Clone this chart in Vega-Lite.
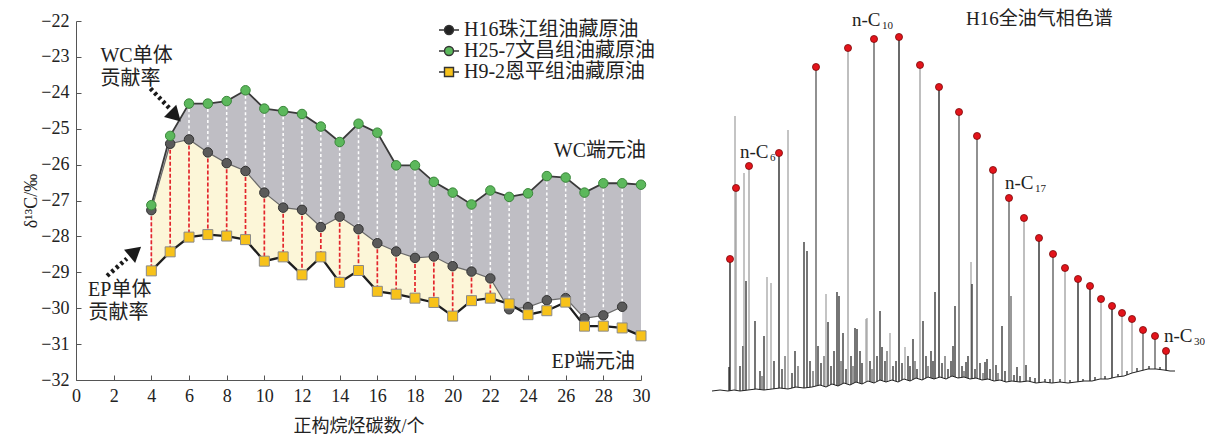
{
  "$schema": "https://vega.github.io/schema/vega-lite/v6.json",
  "padding": {"left": 22, "top": 10, "right": 0, "bottom": 0},
  "background": "white",
  "spacing": 60,
  "config": {
    "view": {"stroke": null},
    "font": "Liberation Serif, Noto Sans CJK SC",
    "axis": {
      "grid": false,
      "labelFont": "Liberation Serif",
      "labelFontSize": 18,
      "labelColor": "#222",
      "labelOverlap": false,
      "labelFlush": false,
      "titleFont": "Liberation Serif, Noto Sans CJK SC",
      "titleFontSize": 18,
      "titleFontWeight": "normal",
      "titleColor": "#222",
      "domainColor": "#555",
      "tickColor": "#555",
      "tickSize": -5,
      "labelPadding": 12
    },
    "legend": {
      "orient": "none", "legendX": 362, "legendY": -2, "title": null, "padding": 0,
      "labelLimit": 0,
      "labelFont": "Liberation Serif, Noto Sans CJK SC", "labelFontSize": 20, "labelColor": "#222",
      "symbolSize": 400, "rowPadding": -5, "labelOffset": 4, "symbolStrokeColor": "#333", "symbolStrokeWidth": 1.4
    }
  },
  "datasets": {
    "iso": [
      {"x": 4, "wc": -27.13, "h16": -27.27, "ep": -28.96},
      {"x": 5, "wc": -25.2, "h16": -25.42, "ep": -28.43},
      {"x": 6, "wc": -24.3, "h16": -25.3, "ep": -28.02},
      {"x": 7, "wc": -24.3, "h16": -25.66, "ep": -27.95},
      {"x": 8, "wc": -24.23, "h16": -25.96, "ep": -27.99},
      {"x": 9, "wc": -23.93, "h16": -26.18, "ep": -28.09},
      {"x": 10, "wc": -24.44, "h16": -26.78, "ep": -28.69},
      {"x": 11, "wc": -24.51, "h16": -27.2, "ep": -28.57},
      {"x": 12, "wc": -24.59, "h16": -27.26, "ep": -29.07},
      {"x": 13, "wc": -24.94, "h16": -27.74, "ep": -28.57},
      {"x": 14, "wc": -25.37, "h16": -27.45, "ep": -29.28},
      {"x": 15, "wc": -24.86, "h16": -27.8, "ep": -28.95},
      {"x": 16, "wc": -25.11, "h16": -28.19, "ep": -29.53},
      {"x": 17, "wc": -26.02, "h16": -28.42, "ep": -29.61},
      {"x": 18, "wc": -26.02, "h16": -28.6, "ep": -29.72},
      {"x": 19, "wc": -26.48, "h16": -28.56, "ep": -29.84},
      {"x": 20, "wc": -26.78, "h16": -28.83, "ep": -30.22},
      {"x": 21, "wc": -27.11, "h16": -28.98, "ep": -29.79},
      {"x": 22, "wc": -26.72, "h16": -29.17, "ep": -29.72},
      {"x": 23, "wc": -26.9, "h16": -30.03, "ep": -29.88},
      {"x": 24, "wc": -26.8, "h16": -29.97, "ep": -30.18},
      {"x": 25, "wc": -26.32, "h16": -29.78, "ep": -30.07},
      {"x": 26, "wc": -26.36, "h16": -29.72, "ep": -29.83},
      {"x": 27, "wc": -26.78, "h16": -30.28, "ep": -30.5},
      {"x": 28, "wc": -26.52, "h16": -30.2, "ep": -30.5},
      {"x": 29, "wc": -26.52, "h16": -29.96, "ep": -30.55},
      {"x": 30, "wc": -26.56, "h16": null, "ep": -30.77}
    ],
    "notes": [
      {"x": 1.3, "y": -22.97, "t": "WC单体"},
      {"x": 1.3, "y": -23.61, "t": "贡献率"},
      {"x": 0.64, "y": -29.48, "t": "EP单体"},
      {"x": 0.67, "y": -30.12, "t": "贡献率"},
      {"x": 25.37, "y": -25.63, "t": "WC端元油"},
      {"x": 25.25, "y": -31.51, "t": "EP端元油"}
    ],
    "arrows": [
      {"name": "wc", "x": 3.95, "y": -23.88, "x2": 5.0, "y2": -24.45},
      {"name": "ep", "x": 1.65, "y": -29.1, "x2": 2.7, "y2": -28.62}
    ],
    "heads": [
      {"name": "wc", "x": 5.28, "y": -24.65},
      {"name": "ep", "x": 3.15, "y": -28.42}
    ],
    "alk": [
      {"rt": 30, "h": 132, "tone": "d"}, {"rt": 36, "h": 203, "tone": "l"}, {"rt": 49, "h": 225, "tone": "l"},
      {"rt": 79, "h": 238, "tone": "d"}, {"rt": 116, "h": 324, "tone": "m"}, {"rt": 148, "h": 343, "tone": "l"},
      {"rt": 174, "h": 352, "tone": "m"}, {"rt": 199, "h": 354, "tone": "d"}, {"rt": 220, "h": 326, "tone": "l"},
      {"rt": 239, "h": 304, "tone": "d"}, {"rt": 259, "h": 279, "tone": "m"}, {"rt": 277, "h": 255, "tone": "m"},
      {"rt": 293, "h": 221, "tone": "m"}, {"rt": 309, "h": 193, "tone": "m"}, {"rt": 324, "h": 173, "tone": "l"},
      {"rt": 339, "h": 153, "tone": "d"}, {"rt": 353, "h": 137, "tone": "m"}, {"rt": 365, "h": 123, "tone": "l"},
      {"rt": 378, "h": 112, "tone": "d"}, {"rt": 390, "h": 105, "tone": "d"}, {"rt": 401, "h": 92, "tone": "l"},
      {"rt": 412, "h": 85, "tone": "d"}, {"rt": 422, "h": 78, "tone": "l"}, {"rt": 432, "h": 72, "tone": "l"},
      {"rt": 443, "h": 61, "tone": "m"}, {"rt": 455, "h": 55, "tone": "m"}, {"rt": 466, "h": 40, "tone": "d"}
    ],
    "peaks": [
      {"rt": 29, "h": 24, "tone": "d"}, {"rt": 35, "h": 275, "tone": "l"}, {"rt": 40, "h": 25, "tone": "d"},
      {"rt": 43, "h": 45, "tone": "d"}, {"rt": 44, "h": 218, "tone": "l"}, {"rt": 46, "h": 110, "tone": "d"},
      {"rt": 55, "h": 70, "tone": "d"}, {"rt": 60, "h": 20, "tone": "d"}, {"rt": 62, "h": 15, "tone": "m"},
      {"rt": 64, "h": 55, "tone": "d"}, {"rt": 67, "h": 114, "tone": "l"}, {"rt": 71, "h": 108, "tone": "l"},
      {"rt": 74, "h": 30, "tone": "d"}, {"rt": 82, "h": 22, "tone": "d"}, {"rt": 85, "h": 35, "tone": "m"},
      {"rt": 88, "h": 261, "tone": "l"}, {"rt": 92, "h": 18, "tone": "d"}, {"rt": 95, "h": 40, "tone": "d"},
      {"rt": 98, "h": 25, "tone": "m"}, {"rt": 104, "h": 149, "tone": "d"}, {"rt": 107, "h": 140, "tone": "d"},
      {"rt": 110, "h": 30, "tone": "d"}, {"rt": 113, "h": 20, "tone": "m"}, {"rt": 118, "h": 45, "tone": "d"},
      {"rt": 121, "h": 28, "tone": "d"}, {"rt": 124, "h": 35, "tone": "m"}, {"rt": 126, "h": 97, "tone": "l"},
      {"rt": 128, "h": 69, "tone": "d"}, {"rt": 131, "h": 25, "tone": "d"}, {"rt": 134, "h": 40, "tone": "d"},
      {"rt": 137, "h": 99, "tone": "d"}, {"rt": 139, "h": 95, "tone": "d"}, {"rt": 141, "h": 30, "tone": "m"},
      {"rt": 143, "h": 58, "tone": "d"}, {"rt": 146, "h": 22, "tone": "d"}, {"rt": 151, "h": 35, "tone": "d"},
      {"rt": 153, "h": 25, "tone": "m"}, {"rt": 155, "h": 63, "tone": "d"}, {"rt": 157, "h": 62, "tone": "d"},
      {"rt": 160, "h": 40, "tone": "d"}, {"rt": 162, "h": 28, "tone": "d"}, {"rt": 166, "h": 72, "tone": "l"},
      {"rt": 167, "h": 73, "tone": "l"}, {"rt": 170, "h": 30, "tone": "d"}, {"rt": 172, "h": 22, "tone": "m"},
      {"rt": 177, "h": 35, "tone": "d"}, {"rt": 180, "h": 80, "tone": "d"}, {"rt": 182, "h": 44, "tone": "d"},
      {"rt": 185, "h": 30, "tone": "d"}, {"rt": 187, "h": 40, "tone": "m"}, {"rt": 190, "h": 58, "tone": "l"},
      {"rt": 193, "h": 25, "tone": "d"}, {"rt": 196, "h": 30, "tone": "d"}, {"rt": 202, "h": 28, "tone": "d"},
      {"rt": 205, "h": 44, "tone": "l"}, {"rt": 208, "h": 35, "tone": "d"}, {"rt": 210, "h": 25, "tone": "d"},
      {"rt": 213, "h": 52, "tone": "d"}, {"rt": 215, "h": 30, "tone": "m"}, {"rt": 217, "h": 22, "tone": "d"},
      {"rt": 223, "h": 70, "tone": "d"}, {"rt": 226, "h": 35, "tone": "d"}, {"rt": 228, "h": 25, "tone": "m"},
      {"rt": 231, "h": 40, "tone": "d"}, {"rt": 233, "h": 30, "tone": "d"}, {"rt": 235, "h": 99, "tone": "d"},
      {"rt": 242, "h": 28, "tone": "d"}, {"rt": 245, "h": 35, "tone": "m"}, {"rt": 248, "h": 22, "tone": "d"},
      {"rt": 251, "h": 30, "tone": "d"}, {"rt": 253, "h": 45, "tone": "d"}, {"rt": 255, "h": 85, "tone": "d"},
      {"rt": 262, "h": 25, "tone": "d"}, {"rt": 264, "h": 20, "tone": "m"}, {"rt": 266, "h": 29, "tone": "d"},
      {"rt": 268, "h": 35, "tone": "d"}, {"rt": 271, "h": 129, "tone": "l"}, {"rt": 272, "h": 107, "tone": "d"},
      {"rt": 275, "h": 22, "tone": "d"}, {"rt": 280, "h": 28, "tone": "d"}, {"rt": 283, "h": 18, "tone": "m"},
      {"rt": 285, "h": 29, "tone": "d"}, {"rt": 287, "h": 32, "tone": "d"}, {"rt": 290, "h": 22, "tone": "d"},
      {"rt": 296, "h": 26, "tone": "d"}, {"rt": 298, "h": 18, "tone": "m"}, {"rt": 302, "h": 65, "tone": "d"},
      {"rt": 305, "h": 20, "tone": "d"}, {"rt": 311, "h": 95, "tone": "m"}, {"rt": 314, "h": 16, "tone": "d"},
      {"rt": 317, "h": 24, "tone": "d"}, {"rt": 320, "h": 15, "tone": "d"}, {"rt": 326, "h": 26, "tone": "d"},
      {"rt": 330, "h": 14, "tone": "d"}, {"rt": 335, "h": 13, "tone": "d"}, {"rt": 345, "h": 12, "tone": "d"},
      {"rt": 350, "h": 12, "tone": "d"}, {"rt": 360, "h": 12, "tone": "d"}, {"rt": 370, "h": 11, "tone": "d"},
      {"rt": 383, "h": 12, "tone": "d"}, {"rt": 395, "h": 14, "tone": "d"}, {"rt": 405, "h": 15, "tone": "d"},
      {"rt": 418, "h": 17, "tone": "d"}, {"rt": 427, "h": 20, "tone": "d"}, {"rt": 437, "h": 23, "tone": "d"},
      {"rt": 449, "h": 25, "tone": "d"}, {"rt": 460, "h": 24, "tone": "d"}
    ],
    "base": [
      {"rt": 12, "h": 0}, {"rt": 20, "h": 1}, {"rt": 28, "h": 0}, {"rt": 34, "h": 1}, {"rt": 40, "h": 0},
      {"rt": 48, "h": 1}, {"rt": 56, "h": 2}, {"rt": 64, "h": 1}, {"rt": 72, "h": 2}, {"rt": 80, "h": 3},
      {"rt": 88, "h": 2}, {"rt": 96, "h": 4}, {"rt": 104, "h": 3}, {"rt": 112, "h": 4}, {"rt": 120, "h": 6},
      {"rt": 126, "h": 4}, {"rt": 132, "h": 7}, {"rt": 138, "h": 5}, {"rt": 144, "h": 8}, {"rt": 150, "h": 6},
      {"rt": 156, "h": 9}, {"rt": 162, "h": 7}, {"rt": 168, "h": 10}, {"rt": 174, "h": 8}, {"rt": 180, "h": 11},
      {"rt": 186, "h": 9}, {"rt": 192, "h": 11}, {"rt": 198, "h": 9}, {"rt": 204, "h": 12}, {"rt": 210, "h": 10},
      {"rt": 216, "h": 13}, {"rt": 222, "h": 11}, {"rt": 228, "h": 14}, {"rt": 234, "h": 12}, {"rt": 240, "h": 14},
      {"rt": 246, "h": 12}, {"rt": 252, "h": 15}, {"rt": 258, "h": 13}, {"rt": 264, "h": 14}, {"rt": 270, "h": 12},
      {"rt": 276, "h": 13}, {"rt": 282, "h": 11}, {"rt": 288, "h": 12}, {"rt": 294, "h": 10}, {"rt": 300, "h": 11},
      {"rt": 306, "h": 9}, {"rt": 312, "h": 10}, {"rt": 320, "h": 9}, {"rt": 328, "h": 10}, {"rt": 336, "h": 8},
      {"rt": 344, "h": 9}, {"rt": 352, "h": 8}, {"rt": 360, "h": 9}, {"rt": 368, "h": 8}, {"rt": 376, "h": 9},
      {"rt": 384, "h": 10}, {"rt": 392, "h": 10}, {"rt": 400, "h": 12}, {"rt": 408, "h": 12}, {"rt": 416, "h": 14},
      {"rt": 424, "h": 15}, {"rt": 432, "h": 18}, {"rt": 440, "h": 20}, {"rt": 448, "h": 22}, {"rt": 456, "h": 22},
      {"rt": 464, "h": 21}, {"rt": 470, "h": 20}, {"rt": 475, "h": 20}
    ],
    "clabels": [
      {"rt": 40, "h": 233, "t": "n-C", "sub": "6"},
      {"rt": 152, "h": 365, "t": "n-C", "sub": "10"},
      {"rt": 305, "h": 202, "t": "n-C", "sub": "17"},
      {"rt": 464, "h": 49, "t": "n-C", "sub": "30"}
    ]
  },
  "hconcat": [
    {
      "width": 565,
      "height": 359,
      "data": {"name": "iso"},
      "resolve": {"axis": {"x": "independent", "y": "independent"}},
      "layer": [
        {
          "mark": {"type": "area", "color": "#bfbec4"},
          "encoding": {
            "x": {"field": "x", "type": "quantitative", "scale": {"domain": [0, 30], "nice": false},
                  "axis": {"values": [0, 2, 4, 6, 8, 10, 12, 14, 16, 18, 20, 22, 24, 26, 28, 30], "labelOverlap": false, "labelFlush": false, "title": "正构烷烃碳数/个", "titlePadding": 12}},
            "y": {"field": "wc", "type": "quantitative", "scale": {"domain": [-32, -22], "nice": false, "zero": false},
                  "axis": {"values": [-32, -31, -30, -29, -28, -27, -26, -25, -24, -23, -22], "labelOverlap": false, "labelFlush": false, "title": "δ¹³C/‰", "titlePadding": 0}},
            "y2": {"field": "ep"}
          }
        },
        {
          "transform": [{"filter": "datum.x <= 23"}],
          "mark": {"type": "area", "color": "#fcf6d8"},
          "encoding": {"x": {"field": "x", "type": "quantitative", "axis": null}, "y": {"field": "h16", "type": "quantitative", "axis": null}, "y2": {"field": "ep"}}
        },
        {
          "transform": [{"filter": "datum.x >= 23 && datum.x <= 29"}],
          "mark": {"type": "area", "color": "#ffffff"},
          "encoding": {"x": {"field": "x", "type": "quantitative", "axis": null}, "y": {"field": "h16", "type": "quantitative", "axis": null}, "y2": {"field": "ep"}}
        },
        {
          "transform": [{"filter": "datum.x >= 5 && datum.x <= 29"}],
          "mark": {"type": "rule", "stroke": "#ffffff", "strokeDash": [3, 2.5], "strokeWidth": 1.5},
          "encoding": {"x": {"field": "x", "type": "quantitative", "axis": null}, "y": {"field": "wc", "type": "quantitative", "axis": null}, "y2": {"field": "h16"}}
        },
        {
          "transform": [{"filter": "datum.x <= 22"}],
          "mark": {"type": "rule", "stroke": "#e3262c", "strokeDash": [4, 2], "strokeWidth": 1.7},
          "encoding": {"x": {"field": "x", "type": "quantitative", "axis": null}, "y": {"field": "h16", "type": "quantitative", "axis": null}, "y2": {"field": "ep"}}
        },
        {
          "mark": {"type": "line", "color": "#3a3a3a", "strokeWidth": 1.8},
          "encoding": {"x": {"field": "x", "type": "quantitative", "axis": null}, "y": {"field": "wc", "type": "quantitative", "axis": null}}
        },
        {
          "mark": {"type": "line", "color": "#6a6a6a", "strokeWidth": 1.2},
          "encoding": {"x": {"field": "x", "type": "quantitative", "axis": null}, "y": {"field": "h16", "type": "quantitative", "axis": null}}
        },
        {
          "mark": {"type": "line", "color": "#1e1e1e", "strokeWidth": 2.3},
          "encoding": {"x": {"field": "x", "type": "quantitative", "axis": null}, "y": {"field": "ep", "type": "quantitative", "axis": null}}
        },
        {
          "transform": [{"filter": "isValid(datum.h16)"}],
          "mark": {"type": "point", "shape": "circle", "filled": true, "size": 90, "fill": "#5a5a5a", "stroke": "#333333", "strokeWidth": 1, "opacity": 1},
          "encoding": {"x": {"field": "x", "type": "quantitative", "axis": null}, "y": {"field": "h16", "type": "quantitative", "axis": null}}
        },
        {
          "mark": {"type": "point", "shape": "circle", "filled": true, "size": 90, "fill": "#5cb85c", "stroke": "#3b873b", "strokeWidth": 1, "opacity": 1},
          "encoding": {"x": {"field": "x", "type": "quantitative", "axis": null}, "y": {"field": "wc", "type": "quantitative", "axis": null}}
        },
        {
          "mark": {"type": "point", "shape": "square", "filled": true, "size": 100, "fill": "#f7c21a", "stroke": "#8a8a8a", "strokeWidth": 1, "opacity": 1},
          "encoding": {"x": {"field": "x", "type": "quantitative", "axis": null}, "y": {"field": "ep", "type": "quantitative", "axis": null}}
        },
        {
          "transform": [{"fold": ["h16", "wc", "ep"], "as": ["series", "val"]}, {"filter": "false"}],
          "mark": {"type": "point", "filled": true, "strokeWidth": 1.4, "opacity": 1},
          "encoding": {
            "x": {"field": "x", "type": "quantitative", "axis": null},
            "y": {"field": "val", "type": "quantitative", "axis": null},
            "fill": {"field": "series", "type": "nominal",
                     "scale": {"domain": ["h16", "wc", "ep"], "range": ["#222222", "#5cb85c", "#f7c21a"]},
                     "legend": {"labelExpr": "datum.value === 'h16' ? 'H16珠江组油藏原油' : datum.value === 'wc' ? 'H25-7文昌组油藏原油' : 'H9-2恩平组油藏原油'"}},
            "stroke": {"field": "series", "type": "nominal",
                       "scale": {"domain": ["h16", "wc", "ep"], "range": ["#333333", "#333333", "#333333"]},
                       "legend": {"labelExpr": "datum.value === 'h16' ? 'H16珠江组油藏原油' : datum.value === 'wc' ? 'H25-7文昌组油藏原油' : 'H9-2恩平组油藏原油'"}},
            "shape": {"field": "series", "type": "nominal",
                      "scale": {"domain": ["h16", "wc", "ep"], "range": [
                        "M-1,0L-0.45,0M0.45,0L1,0M0.45,0A0.45,0.45,0,1,1,-0.45,0A0.45,0.45,0,1,1,0.45,0Z",
                        "M-1,0L-0.45,0M0.45,0L1,0M0.45,0A0.45,0.45,0,1,1,-0.45,0A0.45,0.45,0,1,1,0.45,0Z",
                        "M-1,0L-0.45,0M0.45,0L1,0M-0.45,-0.45L0.45,-0.45L0.45,0.45L-0.45,0.45Z"]},
                      "legend": {"labelExpr": "datum.value === 'h16' ? 'H16珠江组油藏原油' : datum.value === 'wc' ? 'H25-7文昌组油藏原油' : 'H9-2恩平组油藏原油'"}}
          }
        },
        {
          "data": {"name": "arrows"},
          "mark": {"type": "rule", "color": "#1a1a1a", "strokeWidth": 4.5, "strokeDash": [3, 3]},
          "encoding": {"x": {"field": "x", "type": "quantitative", "axis": null}, "y": {"field": "y", "type": "quantitative", "axis": null},
                       "x2": {"field": "x2"}, "y2": {"field": "y2"}}
        },
        {
          "data": {"name": "heads"},
          "transform": [{"filter": "datum.name === 'wc'"}],
          "mark": {"type": "point", "shape": "triangle-up", "filled": true, "color": "#1a1a1a", "size": 300, "angle": 135, "opacity": 1},
          "encoding": {"x": {"field": "x", "type": "quantitative", "axis": null}, "y": {"field": "y", "type": "quantitative", "axis": null}}
        },
        {
          "data": {"name": "heads"},
          "transform": [{"filter": "datum.name === 'ep'"}],
          "mark": {"type": "point", "shape": "triangle-up", "filled": true, "color": "#1a1a1a", "size": 300, "angle": 50, "opacity": 1},
          "encoding": {"x": {"field": "x", "type": "quantitative", "axis": null}, "y": {"field": "y", "type": "quantitative", "axis": null}}
        },
        {
          "data": {"name": "notes"},
          "mark": {"type": "text", "align": "left", "baseline": "middle", "fontSize": 20, "color": "#222", "font": "Liberation Serif, Noto Sans CJK SC"},
          "encoding": {"x": {"field": "x", "type": "quantitative", "axis": null}, "y": {"field": "y", "type": "quantitative", "axis": null}, "text": {"field": "t"}}
        }
      ]
    },
    {
      "width": 470,
      "height": 370,
      "layer": [
        {
          "data": {"name": "peaks"},
          "mark": {"type": "rule", "strokeWidth": 1.2},
          "encoding": {
            "x": {"field": "rt", "type": "quantitative", "scale": {"domain": [10, 480], "nice": false, "zero": false}, "axis": null},
            "y": {"field": "h", "type": "quantitative", "scale": {"domain": [0, 370], "nice": false}, "axis": null},
            "y2": {"datum": 0},
            "color": {"field": "tone", "type": "nominal", "scale": {"domain": ["d", "m", "l"], "range": ["#1a1a1a", "#555555", "#9d9d9d"]}, "legend": null}
          }
        },
        {
          "data": {"name": "alk"},
          "mark": {"type": "rule", "strokeWidth": 1.3},
          "encoding": {
            "x": {"field": "rt", "type": "quantitative", "axis": null},
            "y": {"field": "h", "type": "quantitative", "axis": null},
            "y2": {"datum": 0},
            "color": {"field": "tone", "type": "nominal", "legend": null}
          }
        },
        {
          "data": {"name": "base"},
          "mark": {"type": "area", "color": "#ffffff"},
          "encoding": {"x": {"field": "rt", "type": "quantitative", "axis": null}, "y": {"field": "h", "type": "quantitative", "axis": null}, "y2": {"datum": 0}}
        },
        {
          "data": {"name": "base"},
          "mark": {"type": "line", "color": "#222", "strokeWidth": 1},
          "encoding": {"x": {"field": "rt", "type": "quantitative", "axis": null}, "y": {"field": "h", "type": "quantitative", "axis": null}}
        },
        {
          "data": {"name": "alk"},
          "mark": {"type": "point", "filled": true, "size": 50, "color": "#e3141b", "stroke": "#7a0a0a", "strokeWidth": 0.8, "opacity": 1},
          "encoding": {"x": {"field": "rt", "type": "quantitative", "axis": null}, "y": {"field": "h", "type": "quantitative", "axis": null}}
        },
        {
          "data": {"name": "clabels"},
          "mark": {"type": "text", "align": "left", "baseline": "alphabetic", "fontSize": 19, "color": "#222", "font": "Liberation Serif"},
          "encoding": {"x": {"field": "rt", "type": "quantitative", "axis": null}, "y": {"field": "h", "type": "quantitative", "axis": null}, "text": {"field": "t"}}
        },
        {
          "data": {"name": "clabels"},
          "mark": {"type": "text", "align": "left", "baseline": "alphabetic", "fontSize": 11, "dx": 30, "dy": 3, "color": "#222", "font": "Liberation Serif"},
          "encoding": {"x": {"field": "rt", "type": "quantitative", "axis": null}, "y": {"field": "h", "type": "quantitative", "axis": null}, "text": {"field": "sub"}}
        },
        {
          "data": {"values": [{"rt": 266, "h": 372, "t": "H16全油气相色谱"}]},
          "mark": {"type": "text", "align": "left", "baseline": "middle", "fontSize": 19, "color": "#222", "font": "Liberation Serif, Noto Sans CJK SC"},
          "encoding": {"x": {"field": "rt", "type": "quantitative", "axis": null}, "y": {"field": "h", "type": "quantitative", "axis": null}, "text": {"field": "t"}}
        }
      ]
    }
  ]
}
